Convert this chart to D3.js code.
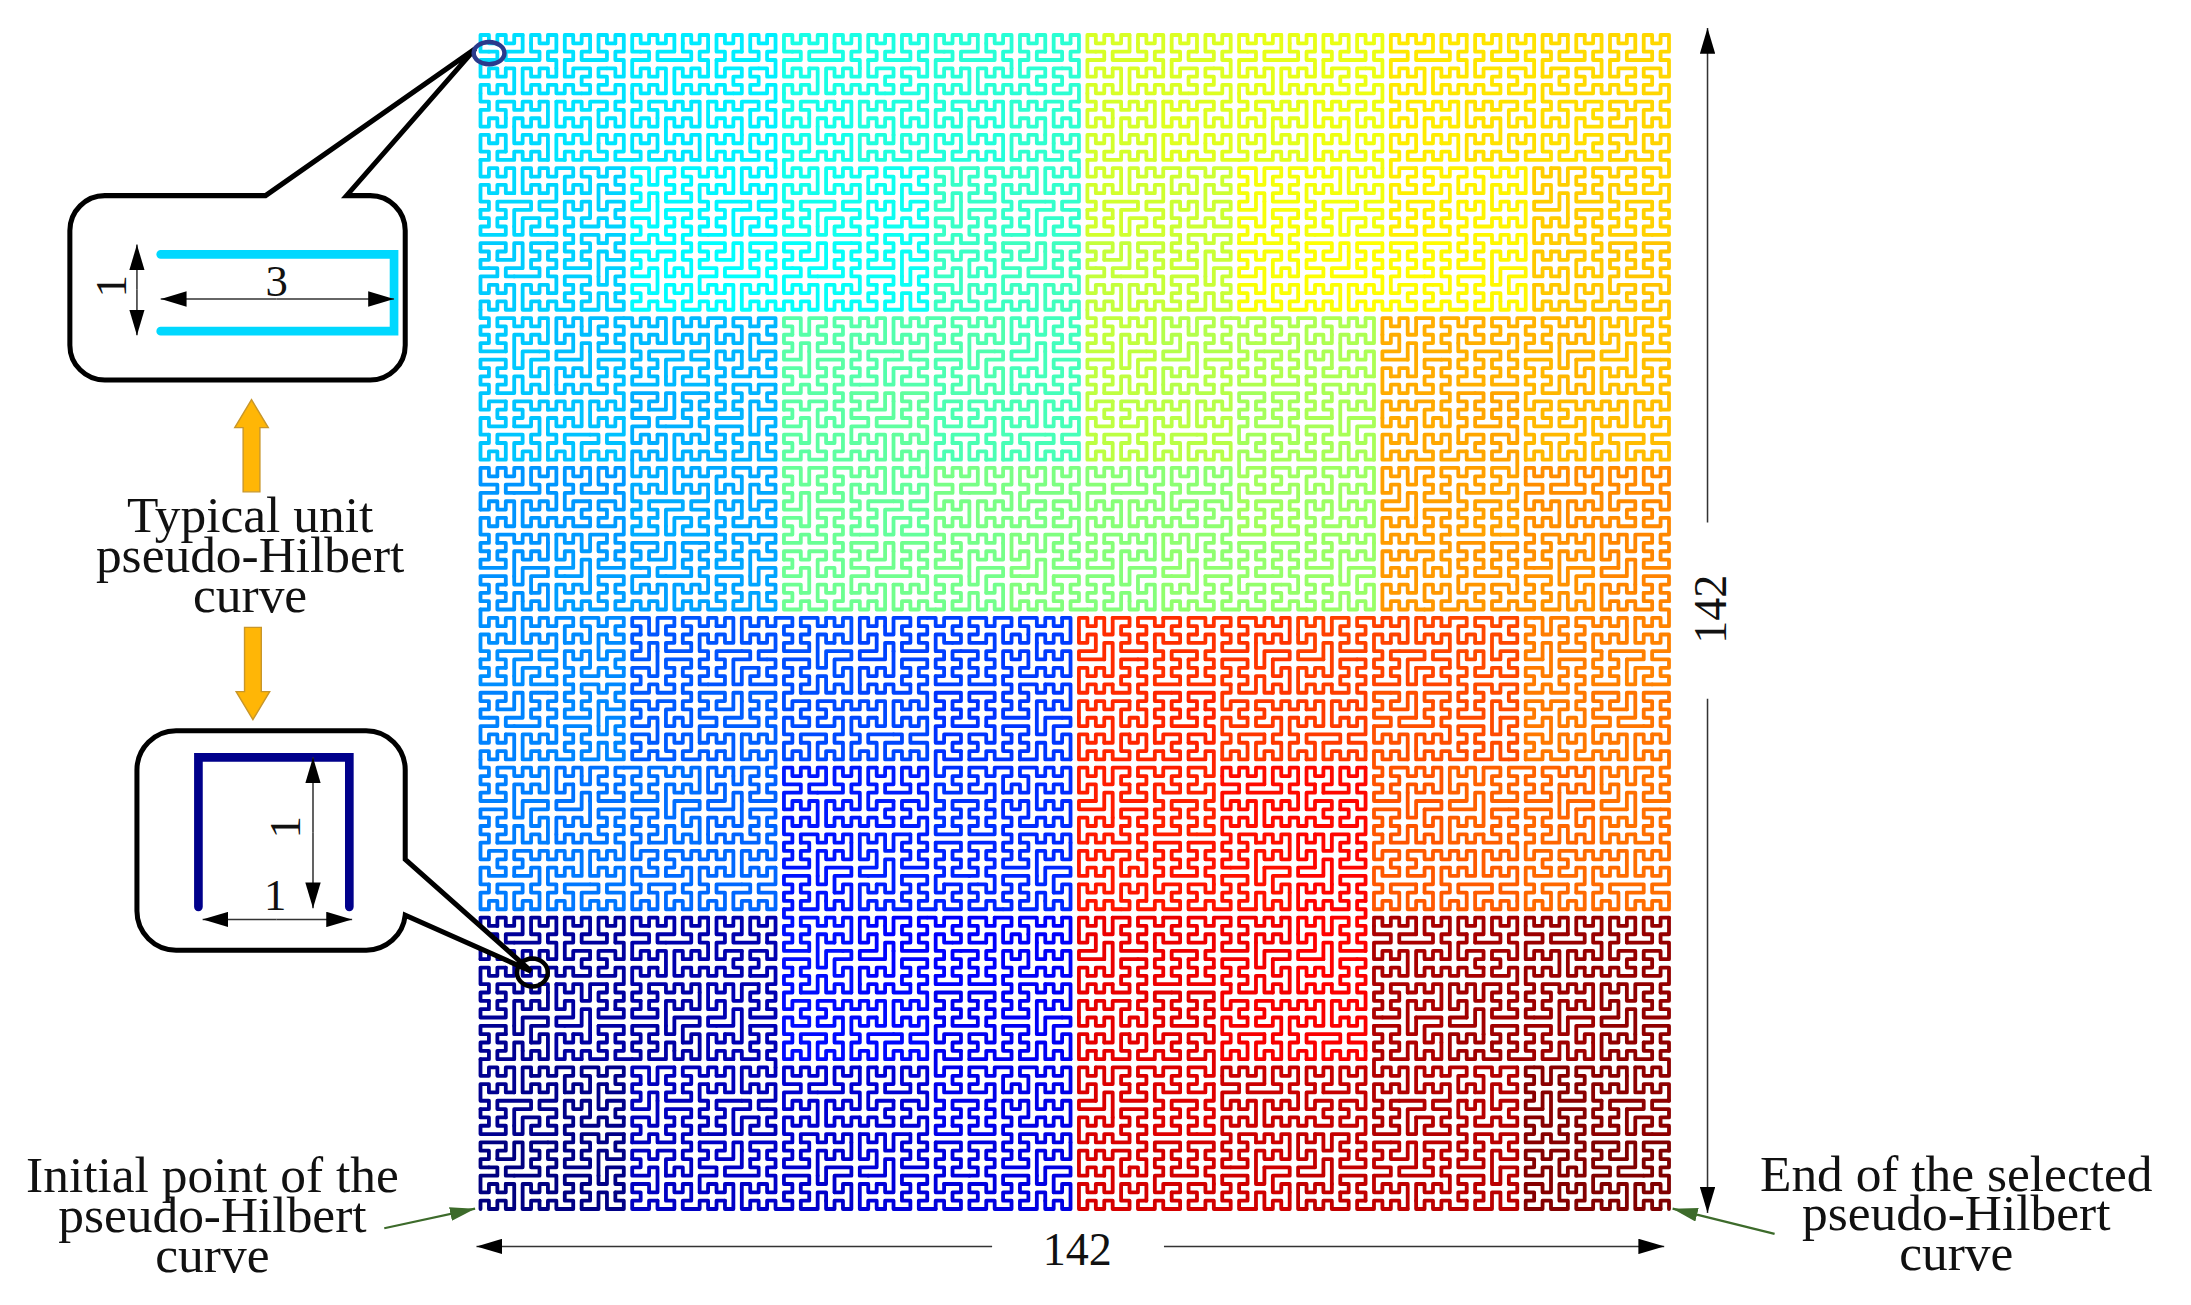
<!DOCTYPE html>
<html>
<head>
<meta charset="utf-8">
<script src="https://cdn.jsdelivr.net/npm/d3@7"></script>
<style>
  html, body { margin: 0; background: #fff; }
  text { font-family: "Liberation Serif", serif; fill: #111; }
</style>
</head>
<body>
<div id="chart"></div>
<script>
'use strict';

const W = 2191;
const H = 1305;
const K = W / 1568;   // annotations below are laid out on a 1568-wide sheet

const GRID_SIZE = 142;   // curve points per side

// The curve itself is defined by recursion, not read point by point. These are the
// block sizes: [near rows, near-left cols, far-left cols]
const BLOCK_SPLITS = {
  '':   [72, 71, 72],
  '0':  [36, 36, 36],
  '1':  [36, 36, 36],
  '2':  [36, 35, 36],
  '3':  [36, 36, 36],
};

// jet colormap along the curve
const JET_STOPS  = [0, 0.11, 0.235, 0.375, 0.5, 0.625, 0.75, 0.875, 1];
const JET_COLORS = ['#00007f', '#0000ff', '#007fff', '#00ffff', '#7fff7f', '#ffff00', '#ff7f00', '#ff0000', '#7f0000'];

const NOTE_TYPICAL = ['Typical unit', 'pseudo-Hilbert', 'curve'];
const NOTE_START   = ['Initial point of the', 'pseudo-Hilbert', 'curve'];
const NOTE_END     = ['End of the selected', 'pseudo-Hilbert', 'curve'];
const DIM_LABEL    = '142';
const UNIT_LABELS  = { wide: '3', one: '1' };

const x = d3.scaleLinear().domain([0, GRID_SIZE - 1]).range([480.5, 1669]);
const y = d3.scaleLinear().domain([0, GRID_SIZE - 1]).range([1209, 35]);
const jet = d3.scaleLinear().domain(JET_STOPS).range(JET_COLORS).interpolate(d3.interpolateRgb);

function evenHalf(n) {
  const h = Math.floor(n / 2);
  return h % 2 === 0 ? h : h + 1;
}

function buildCurve() {
  const pts = [];
  const add = (o, a, b, i, j) => pts.push([o[0] + i * a[0] + j * b[0], o[1] + i * a[1] + j * b[1]]);

  // A points along a (entry to exit side), B points along b
  function walk(o, a, b, A, B, key) {
    if (B === 1) {
      for (let i = 0; i < A; i++) add(o, a, b, i, 0);
      return;
    }
    if (A === 2) {
      for (let j = 0; j < B; j++) add(o, a, b, 0, j);
      for (let j = B - 1; j >= 0; j--) add(o, a, b, 1, j);
      return;
    }
    if (B === 2) {
      for (let i = 0; i < A; i++) {
        add(o, a, b, i, i % 2);
        add(o, a, b, i, 1 - i % 2);
      }
      return;
    }
    // odd-wide unit: zigzag out along the first two rows, back along the other two
    if (A === 4 && B % 2 === 1) {
      for (let j = 0; j < B; j++) {
        add(o, a, b, j % 2, j);
        add(o, a, b, 1 - j % 2, j);
      }
      for (let j = B - 1; j >= 0; j--) {
        add(o, a, b, 2 + (B - 1 - j) % 2, j);
        add(o, a, b, 3 - (B - 1 - j) % 2, j);
      }
      return;
    }

    let split = BLOCK_SPLITS[key];
    if (!split) {
      const nearRows = A === 3 ? B - 1 : evenHalf(B);
      const farRows = B - nearRows;
      let farLeft = evenHalf(A);
      if (A - farLeft < 2 && farRows > 1) farLeft = 2;
      split = [nearRows, Math.floor(A / 2), farLeft];
    }
    const [B1, A1n, A1f] = split;
    const B2 = B - B1;
    const at = (i, j) => [o[0] + i * a[0] + j * b[0], o[1] + i * a[1] + j * b[1]];
    const neg = v => [-v[0], -v[1]];

    walk(o, b, a, B1, A1n, key + '0');
    walk(at(0, B1), a, b, A1f, B2, key + '1');
    walk(at(A1f, B1), a, b, A - A1f, B2, key + '2');
    walk(at(A - 1, B1 - 1), neg(b), neg(a), B1, A - A1n, key + '3');
  }

  walk([0, 0], [1, 0], [0, 1], GRID_SIZE, GRID_SIZE, '');
  return pts;
}

const svg = d3.select('#chart').append('svg').attr('width', W).attr('height', H);
const defs = svg.append('defs');

function addHead(id, color, w, h) {
  defs.append('marker')
    .attr('id', id)
    .attr('viewBox', `0 0 ${w} ${h}`)
    .attr('refX', w).attr('refY', h / 2)
    .attr('markerWidth', w).attr('markerHeight', h)
    .attr('markerUnits', 'userSpaceOnUse')
    .attr('orient', 'auto-start-reverse')
    .append('path')
    .attr('d', `M0,0L${w},${h / 2}L0,${h}Z`)
    .attr('fill', color);
}
addHead('head', '#000', 18.5, 11);
addHead('head-green', '#3d6b2b', 18, 10);

// Curve
const curve = buildCurve();
const line = d3.line().x(d => x(d[0])).y(d => y(d[1]));
const CHUNK = 12;
const curveG = svg.append('g')
  .attr('fill', 'none')
  .attr('stroke-width', 3.8)
  .attr('stroke-linejoin', 'round')
  .attr('stroke-linecap', 'round');
d3.range(0, curve.length - 1, CHUNK).forEach(i => {
  const part = curve.slice(i, i + CHUNK + 1);
  curveG.append('path')
    .attr('d', line(part))
    .attr('stroke', jet(i / (curve.length - 1)));
});

// Annotations
const notes = svg.append('g').attr('transform', `scale(${K})`);

function callout(d) {
  notes.append('path')
    .attr('d', d)
    .attr('fill', '#fff')
    .attr('stroke', '#000')
    .attr('stroke-width', 3.6)
    .attr('stroke-linejoin', 'miter');
}

function uShape(d, color) {
  notes.append('path')
    .attr('d', d)
    .attr('fill', 'none')
    .attr('stroke', color)
    .attr('stroke-width', 6.2)
    .attr('stroke-linecap', 'round')
    .attr('stroke-linejoin', 'miter');
}

function arrow(x1, y1, x2, y2, opts = {}) {
  const head = opts.head || 'head';
  notes.append('line')
    .attr('x1', x1).attr('y1', y1).attr('x2', x2).attr('y2', y2)
    .attr('stroke', opts.color || '#333')
    .attr('stroke-width', opts.width || 1.1)
    .attr('marker-end', `url(#${head})`);
}

function blockArrow(cx, tip, tail) {
  const dir = tail > tip ? 1 : -1;
  notes.append('path')
    .attr('d', `M${cx},${tip}L${cx + 12},${tip + dir * 20}L${cx + 6},${tip + dir * 20}L${cx + 6},${tail}L${cx - 6},${tail}L${cx - 6},${tip + dir * 20}L${cx - 12},${tip + dir * 20}Z`)
    .attr('fill', '#ffb606')
    .attr('stroke', '#c8962a')
    .attr('stroke-width', 1);
}

function textBlock(lines, cx, firstY, step) {
  lines.forEach((t, i) => {
    notes.append('text')
      .attr('x', cx).attr('y', firstY + i * step)
      .attr('text-anchor', 'middle')
      .attr('font-size', 36.8)
      .text(t);
  });
}

function rotated(t, cx, cy, size) {
  notes.append('text')
    .attr('transform', `translate(${cx},${cy}) rotate(-90)`)
    .attr('text-anchor', 'middle')
    .attr('font-size', size)
    .text(t);
}

// upper callout
callout('M75,140 H190 L340,35 L248,140 H265 A25,25 0 0 1 290,165 V247 A25,25 0 0 1 265,272 H75 A25,25 0 0 1 50,247 V165 A25,25 0 0 1 75,140Z');
notes.append('ellipse')
  .attr('cx', 350).attr('cy', 38).attr('rx', 11).attr('ry', 8)
  .attr('fill', 'none').attr('stroke', '#2a3a8c').attr('stroke-width', 3.2);
uShape('M115,182 H282 V237 H115', '#00d8ff');
arrow(98, 207, 98, 175);
arrow(98, 207, 98, 240);
arrow(198, 214, 115, 214);
arrow(198, 214, 282, 214);
rotated(UNIT_LABELS.one, 90, 205, 32);
notes.append('text').attr('x', 198).attr('y', 212).attr('text-anchor', 'middle').attr('font-size', 32).text(UNIT_LABELS.wide);

// lower callout
callout('M126,523 H262 A28,28 0 0 1 290,551 V615 L380,695 L290,655 A28,28 0 0 1 262,680 H126 A28,28 0 0 1 98,652 V551 A28,28 0 0 1 126,523Z');
notes.append('ellipse')
  .attr('cx', 381).attr('cy', 696).attr('rx', 11).attr('ry', 10)
  .attr('fill', 'none').attr('stroke', '#000').attr('stroke-width', 3.2);
uShape('M142,649 V542 H250 V649', '#00008b');
arrow(224, 596, 224, 542);
arrow(224, 596, 224, 650);
arrow(198, 658, 145, 658);
arrow(198, 658, 252, 658);
rotated(UNIT_LABELS.one, 215, 592, 32);
notes.append('text').attr('x', 197).attr('y', 651).attr('text-anchor', 'middle').attr('font-size', 32).text(UNIT_LABELS.one);

// orange arrows and the middle note
blockArrow(180, 286, 352);
blockArrow(181, 515, 449);
textBlock(NOTE_TYPICAL, 179, 381, 28.5);

// start and end notes
textBlock(NOTE_START, 152, 853, 28.5);
textBlock(NOTE_END, 1400, 852, 28.5);
arrow(275, 879, 340, 865, { color: '#3d6b2b', width: 1.6, head: 'head-green' });
arrow(1270, 883, 1197, 865, { color: '#3d6b2b', width: 1.6, head: 'head-green' });

// overall size arrows
arrow(710, 892, 341, 892);
arrow(833, 892, 1191, 892);
arrow(1222, 374, 1222, 20);
arrow(1222, 500, 1222, 868);
notes.append('text').attr('x', 771).attr('y', 905).attr('text-anchor', 'middle').attr('font-size', 33).text(DIM_LABEL);
rotated(DIM_LABEL, 1235, 436, 33);
</script>
</body>
</html>
